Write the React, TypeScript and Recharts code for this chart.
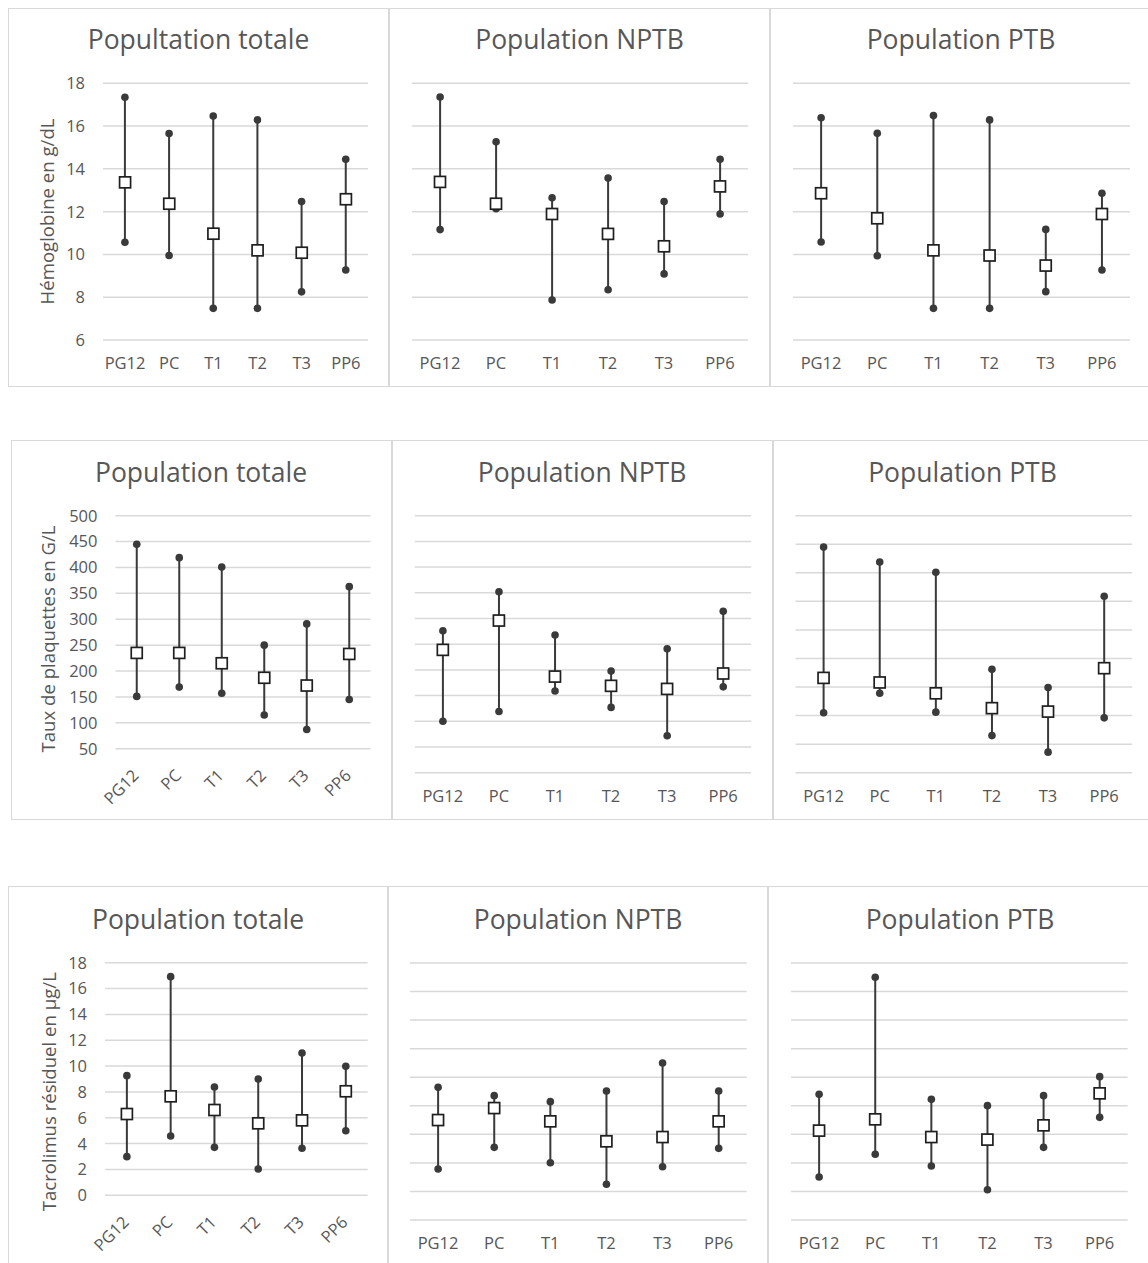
import React from 'react';
import { ComposedChart, Bar, Line, XAxis, YAxis, CartesianGrid } from 'recharts';

// ---------- data ----------
const categories = ['PG12', 'PC', 'T1', 'T2', 'T3', 'PP6'];

// Hémoglobine (g/dL)
const hbTotalMax = [17.35, 15.65, 16.47, 16.29, 12.47, 14.45];
const hbTotalMed = [13.37, 12.37, 10.97, 10.19, 10.08, 12.58];
const hbTotalMin = [10.57, 9.95, 7.48, 7.48, 8.25, 9.27];
const hbNptbMax = [17.36, 15.27, 12.65, 13.57, 12.47, 14.45];
const hbNptbMed = [13.39, 12.37, 11.89, 10.96, 10.38, 13.18];
const hbNptbMin = [11.16, 12.14, 7.87, 8.35, 9.09, 11.89];
const hbPtbMax = [16.39, 15.66, 16.49, 16.29, 11.17, 12.86];
const hbPtbMed = [12.86, 11.69, 10.19, 9.95, 9.48, 11.89];
const hbPtbMin = [10.58, 9.94, 7.48, 7.48, 8.26, 9.27];

// Plaquettes (G/L)
const pltTotalMax = [445, 419, 401, 250, 291, 363];
const pltTotalMed = [235, 235, 215, 187, 172, 233];
const pltTotalMin = [151, 169, 157, 115, 87, 145];
const pltNptbMax = [276, 352, 268, 198, 241, 314];
const pltNptbMed = [239, 296, 187, 169, 163, 193];
const pltNptbMin = [100, 119, 159, 127, 72, 167];
const pltPtbMax = [445, 419, 401, 231, 199, 359];
const pltPtbMed = [216, 208, 189, 163, 157, 233];
const pltPtbMin = [155, 189, 156, 115, 86, 146];

// Tacrolimus résiduel (µg/L)
const tacTotalMax = [9.26, 16.92, 8.38, 9.0, 11.01, 9.98];
const tacTotalMed = [6.29, 7.66, 6.6, 5.57, 5.8, 8.05];
const tacTotalMin = [2.99, 4.59, 3.71, 2.04, 3.64, 5.0];
const tacNptbMax = [9.29, 8.71, 8.29, 9.03, 11.0, 9.03];
const tacNptbMed = [7.0, 7.84, 6.91, 5.51, 5.81, 6.91];
const tacNptbMin = [3.57, 5.09, 4.01, 2.5, 3.73, 5.02];
const tacPtbMax = [8.8, 17.0, 8.45, 8.01, 8.71, 10.04];
const tacPtbMed = [6.26, 7.05, 5.81, 5.63, 6.63, 8.87];
const tacPtbMin = [3.01, 4.6, 3.78, 2.12, 5.09, 7.19];

// tick labels
const hbTicks = [6, 8, 10, 12, 14, 16, 18];
const pltTicks50 = [50, 100, 150, 200, 250, 300, 350, 400, 450, 500];
const pltTicks0 = [0, 50, 100, 150, 200, 250, 300, 350, 400, 450, 500];
const tacTicks = [0, 2, 4, 6, 8, 10, 12, 14, 16, 18];

const titleTotalTypo = 'Popultation totale';
const titleTotal = 'Population totale';
const titleNptb = 'Population NPTB';
const titlePtb = 'Population PTB';
const yTitleHb = 'Hémoglobine en g/dL';
const yTitlePlt = 'Taux de plaquettes en G/L';
const yTitleTac = 'Tacrolimus résiduel en µg/L';

// ---------- style ----------
const FONT = '"Open Sans", "DejaVu Sans", sans-serif';
const TEXT = '#575757';
const GRID = '#d9d9d9';
const INK = '#3a3a3a';
const TICK_FS = 16.5;

type PanelCfg = {
  left: number; top: number; width: number; height: number;
  gx1: number; gx2: number; gy1: number; gy2: number;
  domain: [number, number]; ticks: number[];
  showY: boolean; rotate: boolean;
  max: number[]; med: number[]; min: number[];
  title: string; titleBaseline: number;
};

const panels: PanelCfg[] = [
  { left: 8, top: 8, width: 381, height: 379, gx1: 103, gx2: 368, gy1: 83.3, gy2: 340, domain: [6, 18], ticks: hbTicks, showY: true, rotate: false, max: hbTotalMax, med: hbTotalMed, min: hbTotalMin, title: titleTotalTypo, titleBaseline: 49.3 },
  { left: 389, top: 8, width: 381, height: 379, gx1: 412, gx2: 748, gy1: 83.3, gy2: 340, domain: [6, 18], ticks: hbTicks, showY: false, rotate: false, max: hbNptbMax, med: hbNptbMed, min: hbNptbMin, title: titleNptb, titleBaseline: 49.3 },
  { left: 770, top: 8, width: 382, height: 379, gx1: 793, gx2: 1130, gy1: 83.3, gy2: 340, domain: [6, 18], ticks: hbTicks, showY: false, rotate: false, max: hbPtbMax, med: hbPtbMed, min: hbPtbMin, title: titlePtb, titleBaseline: 49.3 },

  { left: 10.5, top: 440, width: 381, height: 380, gx1: 115, gx2: 370, gy1: 515.7, gy2: 748.7, domain: [50, 500], ticks: pltTicks50, showY: true, rotate: true, max: pltTotalMax, med: pltTotalMed, min: pltTotalMin, title: titleTotal, titleBaseline: 481.7 },
  { left: 391.5, top: 440, width: 381, height: 380, gx1: 414.3, gx2: 750.7, gy1: 515.7, gy2: 772.7, domain: [0, 500], ticks: pltTicks0, showY: false, rotate: false, max: pltNptbMax, med: pltNptbMed, min: pltNptbMin, title: titleNptb, titleBaseline: 481.7 },
  { left: 772.5, top: 440, width: 380, height: 380, gx1: 795, gx2: 1131.7, gy1: 515.7, gy2: 772.7, domain: [50, 500], ticks: pltTicks50, showY: false, rotate: false, max: pltPtbMax, med: pltPtbMed, min: pltPtbMin, title: titlePtb, titleBaseline: 481.7 },

  { left: 8, top: 886, width: 380, height: 380, gx1: 105, gx2: 367.7, gy1: 962.7, gy2: 1195.3, domain: [0, 18], ticks: tacTicks, showY: true, rotate: true, max: tacTotalMax, med: tacTotalMed, min: tacTotalMin, title: titleTotal, titleBaseline: 929.3 },
  { left: 388, top: 886, width: 380, height: 380, gx1: 410, gx2: 746.7, gy1: 963, gy2: 1220, domain: [0, 18], ticks: tacTicks, showY: false, rotate: false, max: tacNptbMax, med: tacNptbMed, min: tacNptbMin, title: titleNptb, titleBaseline: 929.3 },
  { left: 768, top: 886, width: 384, height: 380, gx1: 791, gx2: 1127.7, gy1: 963, gy2: 1220, domain: [0, 18], ticks: tacTicks, showY: false, rotate: false, max: tacPtbMax, med: tacPtbMed, min: tacPtbMin, title: titlePtb, titleBaseline: 929.3 },
];

const yTitles = [
  { text: yTitleHb, x: 54.3, y: 211.5 },
  { text: yTitlePlt, x: 55, y: 639 },
  { text: yTitleTac, x: 55.5, y: 1091.7 },
];

// ---------- shapes ----------
const RangeShape = (props: any) => {
  const { x, y, width, height } = props;
  if (x == null || y == null) return null;
  const cx = x + width / 2;
  const y1 = Math.min(y, y + height);
  const y2 = Math.max(y, y + height);
  return (
    <g>
      <line x1={cx} x2={cx} y1={y1} y2={y2} stroke={INK} strokeWidth={2} />
      <circle cx={cx} cy={y1} r={3.8} fill={INK} />
      <circle cx={cx} cy={y2} r={3.8} fill={INK} />
    </g>
  );
};

const SquareDot = (props: any) => {
  const { cx, cy, index } = props;
  if (cx == null || cy == null) return null;
  return <rect key={`sq-${index}`} x={cx - 5.5} y={cy - 5.5} width={11} height={11} fill="#ffffff" stroke="#1f1f1f" strokeWidth={1.7} />;
};

const EmptyTick = () => <g />;

function Panel({ cfg }: { cfg: PanelCfg }) {
  const data = categories.map((c, i) => ({ cat: c, range: [cfg.min[i], cfg.max[i]], med: cfg.med[i] }));
  const W = cfg.width;
  const H = cfg.height;
  const left = cfg.gx1 - cfg.left;
  const right = cfg.left + W - cfg.gx2;
  const top = cfg.gy1 - cfg.top;
  const bottom = cfg.top + H - cfg.gy2;
  const plotBottom = cfg.gy2 - cfg.top;

  const xTick = (props: any) => {
    const { x, payload } = props;
    if (cfg.rotate) {
      const ax = x + 3;
      const ay = plotBottom + 28;
      return (
        <text x={ax} y={ay} textAnchor="end" transform={`rotate(-45 ${ax} ${ay})`} fill={TEXT} fontSize={TICK_FS} fontFamily={FONT}>
          {payload.value}
        </text>
      );
    }
    return (
      <text x={x} y={plotBottom + 29} textAnchor="middle" fill={TEXT} fontSize={TICK_FS} fontFamily={FONT}>
        {payload.value}
      </text>
    );
  };

  const yTick = (props: any) => (
    <text x={left - 18} y={props.y} dy={5.9} textAnchor="end" fill={TEXT} fontSize={TICK_FS} fontFamily={FONT}>
      {props.payload.value}
    </text>
  );

  return (
    <div style={{ position: 'absolute', left: cfg.left, top: cfg.top, width: W, height: H }}>
      <ComposedChart width={W} height={H} data={data} margin={{ top, right, left: 0, bottom: 0 }}>
        <CartesianGrid vertical={false} stroke={GRID} strokeWidth={1.5} />
        <XAxis dataKey="cat" height={bottom} axisLine={false} tickLine={false} tickSize={0} tickMargin={0} interval={0} tick={xTick} />
        <YAxis
          type="number"
          domain={cfg.domain}
          ticks={cfg.ticks}
          width={left}
          axisLine={false}
          tickLine={false}
          tickSize={0}
          interval={0}
          allowDataOverflow
          tick={cfg.showY ? yTick : EmptyTick}
        />
        <Bar dataKey="range" shape={RangeShape} isAnimationActive={false} />
        <Line dataKey="med" stroke="none" dot={SquareDot} activeDot={false} isAnimationActive={false} legendType="none" />
      </ComposedChart>
    </div>
  );
}

export default function App() {
  return (
    <div style={{ position: 'absolute', left: 0, top: 0, width: 1148, height: 1263, overflow: 'hidden', background: '#ffffff' }}>
      {panels.map((p, i) => (
        <div
          key={`b${i}`}
          style={{ position: 'absolute', left: p.left, top: p.top, width: p.width, height: p.height, boxSizing: 'border-box', border: `1.5px solid ${GRID}` }}
        />
      ))}
      {panels.map((p, i) => (
        <Panel key={`p${i}`} cfg={p} />
      ))}
      <svg width={1148} height={1263} style={{ position: 'absolute', left: 0, top: 0, pointerEvents: 'none' }}>
        {panels.map((p, i) => (
          <text key={`t${i}`} x={p.left + p.width / 2} y={p.titleBaseline} textAnchor="middle" fill={TEXT} fontSize={26.5} fontFamily={FONT}>
            {p.title}
          </text>
        ))}
        {yTitles.map((t, i) => (
          <text key={`y${i}`} transform={`translate(${t.x} ${t.y}) rotate(-90)`} textAnchor="middle" fill={TEXT} fontSize={18.6} fontFamily={FONT}>
            {t.text}
          </text>
        ))}
      </svg>
    </div>
  );
}
